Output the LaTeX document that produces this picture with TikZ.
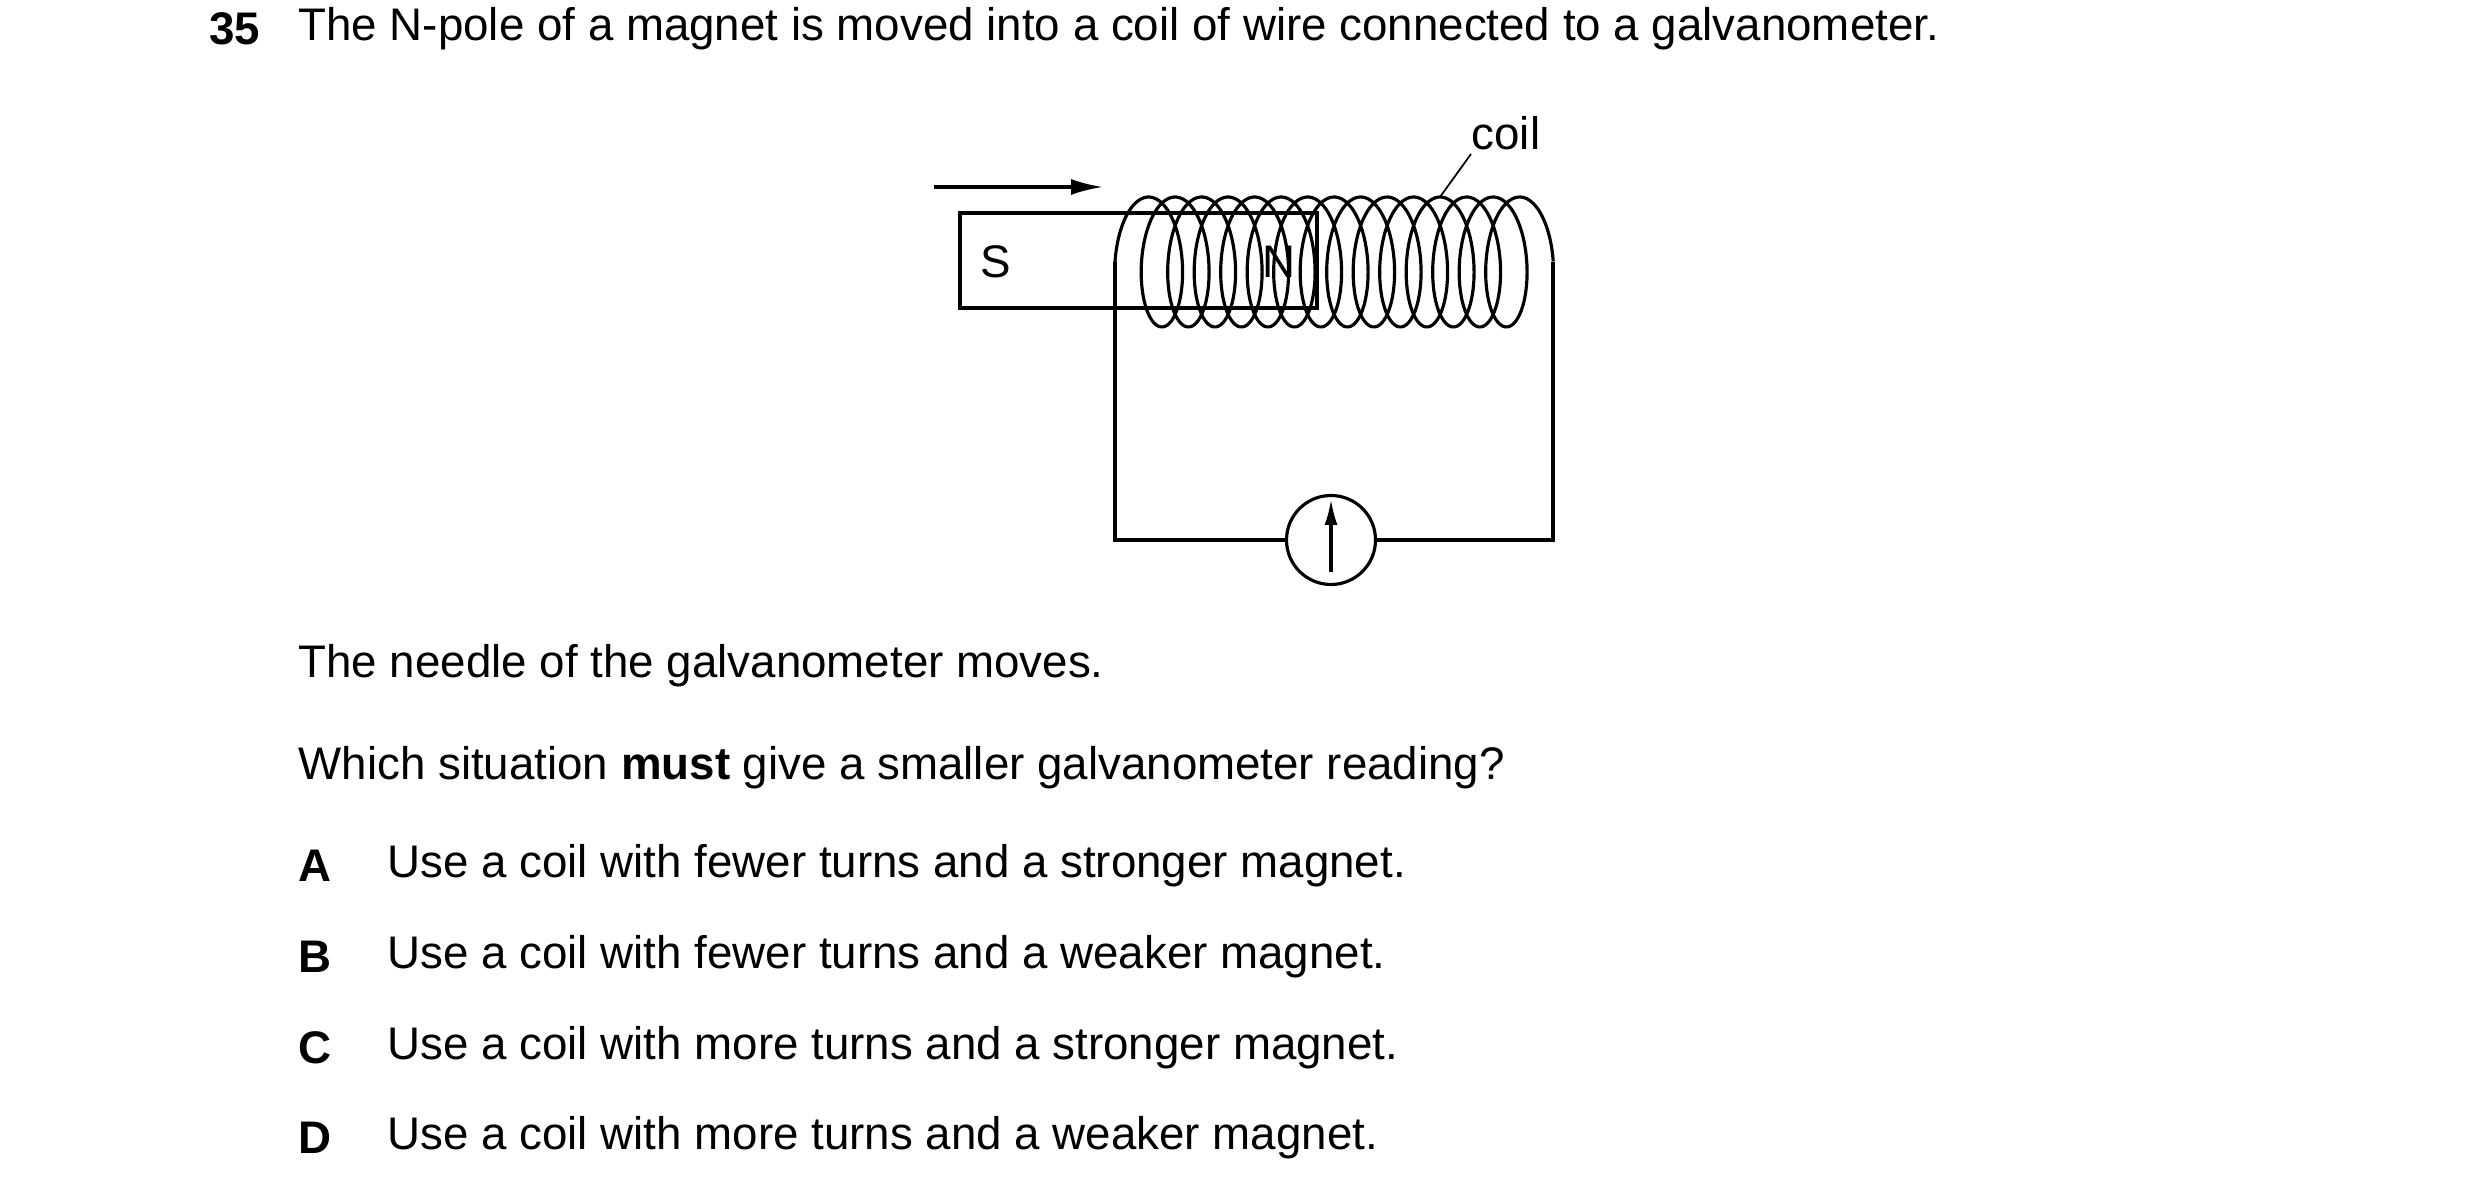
\documentclass[tikz,border=0pt]{standalone}
\usepackage{fontspec}
\setmainfont{Liberation Sans}
\usetikzlibrary{arrows,arrows.meta,calc,positioning,shapes.geometric}
\tikzset{every picture/.style={
  >={Latex[length=3.2mm,width=1.6mm]}      % Filled arrow heads.
  }
}

\begin{document}
\begin{tikzpicture}[
    x=0.1mm, y=-0.1mm,
    line width=0.9pt,
    txt/.style={
      anchor=west,
      inner sep=0pt,
      font=\fontsize{13}{15}\selectfont
    },
    letter/.style={
      txt,
      font=\fontsize{13}{15}\selectfont\bfseries
    },
    meter/.style={
      circle,
      draw,
      minimum size=8.9mm,
      inner sep=0pt
    }]
    \useasboundingbox (0,0) rectangle (2480,1198);

    % Question text.
    \node[letter] (qnum) at (208,29) {35};
    \node[txt] (qtext) at (297,29)
      {The N-pole of a magnet is moved into a coil of wire connected to a galvanometer.};
    \node[txt] (needle) at (297,666) {The needle of the galvanometer moves.};
    \node[txt] (which) at (297,768)
      {Which situation \textbf{must} give a smaller galvanometer reading?};
    \node[letter] (la) at (297,866) {A};
    \node[txt] (oa) at (386,866) {Use a coil with fewer turns and a stronger magnet.};
    \node[letter] (lb) at (297,957) {B};
    \node[txt] (ob) at (386,957) {Use a coil with fewer turns and a weaker magnet.};
    \node[letter] (lc) at (297,1048) {C};
    \node[txt] (oc) at (386,1048) {Use a coil with more turns and a stronger magnet.};
    \node[letter] (ld) at (297,1138) {D};
    \node[txt] (od) at (386,1138) {Use a coil with more turns and a weaker magnet.};

    % Magnet and its motion.
    \draw (960,213) rectangle (1317,308);
    \node[txt,anchor=center] (spole) at (996,262) {S};
    \node[txt,anchor=center] (npole) at (1279,262) {N};
    \coordinate (mstart) at (934,187);
    \coordinate (mend) at (1103,187);
    \draw[->] (mstart) -- (mend);

    % The coil.
    \draw[line join=round] plot[domain=0:29*pi,samples=900,smooth]
      ({1142+26.5*\x/(2*pi)-27*cos(\x r)},{262-65*sin(\x r)});

    % Circuit with the galvanometer.
    \node[meter] (galv) at (1331,540) {};
    \coordinate (cl) at (1115,262);
    \coordinate (cr) at (1553,262);
    \draw (cl) |- (galv.west);
    \draw (cr) |- (galv.east);
    \coordinate (ntail) at (1331,572);
    \coordinate (ntip) at (1331,499);
    \draw[->,>={Latex[length=2.6mm,width=1.3mm]}] (ntail) -- (ntip);

    % Label the coil.
    \node[txt,anchor=center] (coil) at (1506,133) {coil};
    \coordinate (cpt) at (1440,197);
    \draw[line width=0.5pt] (1471,154) -- (cpt);
  \end{tikzpicture}
\end{document}
